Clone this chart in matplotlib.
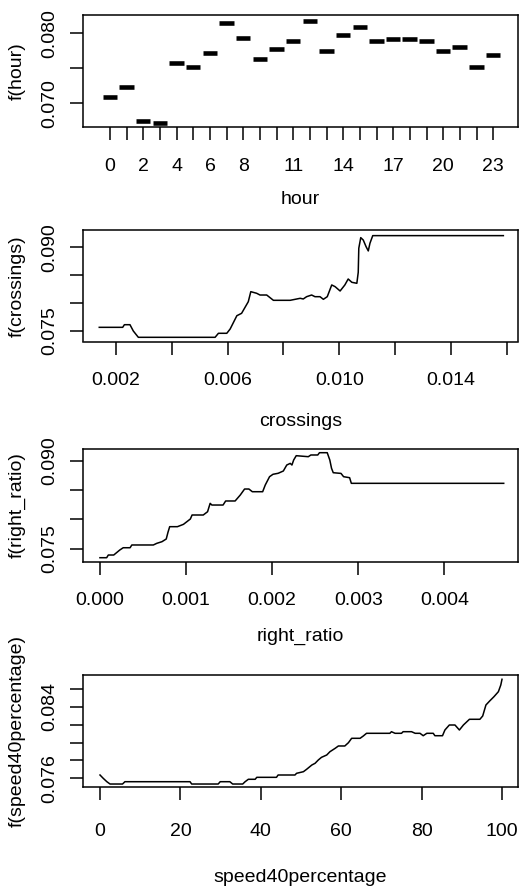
import numpy as np
import matplotlib
matplotlib.use("Agg")
import matplotlib.pyplot as plt

plt.rcParams['font.family'] = ['Liberation Sans', 'DejaVu Sans']
plt.rcParams['font.size'] = 14

# partial dependence values
hours = np.arange(24)
f_hour = [0.07095, 0.07238, 0.06752, 0.06714, 0.07581, 0.07524, 0.07724, 0.08152,
          0.07929, 0.07638, 0.07781, 0.07895, 0.08181, 0.07752, 0.07981, 0.08095,
          0.07895, 0.07924, 0.07924, 0.07895, 0.07752, 0.07810, 0.07524, 0.07695]
hour_labels = ['0', '', '2', '', '4', '', '6', '', '8', '', '', '11', '', '',
               '14', '', '', '17', '', '', '20', '', '', '23']

crossings = [0.0014, 0.00224, 0.0023, 0.0025, 0.00262, 0.0028, 0.00555, 0.00567, 0.00597,
             0.00609, 0.00633, 0.0065, 0.00674, 0.00683, 0.00704, 0.00716, 0.0074, 0.00764,
             0.00824, 0.0086, 0.00871, 0.00883, 0.00901, 0.00913, 0.00931, 0.00943, 0.00957,
             0.00973, 0.00985, 0.01003, 0.0102, 0.01032, 0.01045, 0.01063, 0.01068, 0.0107,
             0.01077, 0.01086, 0.01096, 0.01104, 0.0111, 0.0112, 0.01588]
f_crossings = [0.07566, 0.07566, 0.07613, 0.07613, 0.0750, 0.07387, 0.07387, 0.07459, 0.07459,
               0.07536, 0.07774, 0.07817, 0.08025, 0.08205, 0.08176, 0.08145, 0.08145, 0.0805,
               0.0805, 0.08086, 0.08074, 0.08115, 0.08145, 0.08115, 0.08115, 0.08068, 0.08115,
               0.08325, 0.08295, 0.08217, 0.08325, 0.08432, 0.08373, 0.08355, 0.08552, 0.08983,
               0.09173, 0.0913, 0.09012, 0.08935, 0.09073, 0.09209, 0.09209]

right_ratio = [0, 0.000078, 0.000097, 0.00016, 0.00023, 0.00027, 0.00035, 0.00037, 0.00062,
               0.00066, 0.00072, 0.00077, 0.00079, 0.00081, 0.0009, 0.00097, 0.00105, 0.00107,
               0.0012, 0.00125, 0.00128, 0.0013, 0.00143, 0.00146, 0.00157, 0.00163, 0.00168,
               0.00173, 0.00177, 0.00189, 0.00192, 0.00197, 0.00201, 0.00207, 0.00213, 0.00217,
               0.00221, 0.00223, 0.00225, 0.00228, 0.00242, 0.00245, 0.00253, 0.00255, 0.00264,
               0.00267, 0.00269, 0.00271, 0.0028, 0.00283, 0.0029, 0.00292, 0.00469]
f_right_ratio = [0.07343, 0.07343, 0.07389, 0.07389, 0.07474, 0.07513, 0.07513, 0.0756, 0.0756,
                 0.07588, 0.07616, 0.07662, 0.07776, 0.07872, 0.07872, 0.07912, 0.08003, 0.08071,
                 0.08071, 0.08127, 0.0827, 0.08241, 0.08241, 0.0831, 0.0831, 0.08412, 0.08514,
                 0.08514, 0.08468, 0.08468, 0.08582, 0.08724, 0.08765, 0.08782, 0.08821, 0.08923,
                 0.08951, 0.08923, 0.09008, 0.09082, 0.09065, 0.09094, 0.09094, 0.09133, 0.09133,
                 0.09008, 0.08867, 0.08792, 0.0878, 0.08724, 0.08707, 0.08611, 0.08611]

speed40 = [0, 0.8, 1.7, 2.5, 5.6, 6.2, 22.4, 22.8, 29.4, 29.9, 32.3, 33.0, 35.5, 36.1, 36.9,
           38.6, 39.0, 43.9, 44.3, 48.5, 48.9, 50.6, 51.4, 52.7, 53.5, 54.3, 55.1, 56.4, 57.2,
           58.5, 59.3, 60.9, 61.8, 62.6, 64.7, 65.5, 66.3, 72.1, 72.5, 73.4, 75.0, 75.4, 77.5,
           78.4, 79.6, 80.4, 81.3, 82.9, 83.3, 85.2, 85.8, 86.9, 88.3, 89.4, 90.4, 91.9, 94.5,
           95.2, 96.0, 97.0, 98.0, 99.1, 99.7, 100]
f_speed40 = [0.07637, 0.0760, 0.07562, 0.07536, 0.07536, 0.07562, 0.07562, 0.07536, 0.07536,
             0.07562, 0.07562, 0.07536, 0.07536, 0.07562, 0.07589, 0.07589, 0.07611, 0.07611,
             0.07637, 0.07637, 0.07656, 0.07674, 0.07701, 0.07749, 0.07768, 0.07805, 0.07835,
             0.07861, 0.07898, 0.07936, 0.07962, 0.07962, 0.07999, 0.08048, 0.08048, 0.08074,
             0.08104, 0.08104, 0.08122, 0.08104, 0.08104, 0.08122, 0.08122, 0.08104, 0.08104,
             0.08077, 0.08104, 0.08104, 0.08077, 0.08077, 0.08141, 0.08197, 0.08197, 0.08141,
             0.08197, 0.08261, 0.08261, 0.08298, 0.08421, 0.08469, 0.08514, 0.0857, 0.08645,
             0.08709]

W, H = 521, 890
fig = plt.figure(figsize=(W / 100, H / 100), dpi=100)


def panel(top, bottom):
    ax = fig.add_axes([83 / W, 1 - bottom / H, 435 / W, (bottom - top) / H])
    for s in ax.spines.values():
        s.set_linewidth(1.1)
    ax.tick_params(direction='out', length=9.4, width=1.1, labelsize=14, top=False, right=False)
    return ax


def style(ax, xlab, ylab, yticks, ylabels, xpad, xlab_y):
    ax.set_yticks(yticks)
    ax.set_yticklabels(ylabels, rotation=90, va='center')
    ax.tick_params(axis='y', pad=8.6)
    ax.tick_params(axis='x', pad=xpad)
    ax.set_xlabel(xlab, fontsize=14, va='center')
    ax.xaxis.set_label_coords(0.5, xlab_y)
    ax.set_ylabel(ylab, fontsize=14, va='center')
    ax.yaxis.set_label_coords(-66 / 435, 0.5)


# hour
ax1 = panel(14.7, 126.7)
ax1.hlines(f_hour, hours - 0.45, hours + 0.42, colors='black', lw=3.3)
ax1.set_xlim(-1.62, 24.48)
ax1.set_ylim(0.06666, 0.08266)
ax1.set_xticks(hours)
ax1.set_xticklabels(hour_labels)
style(ax1, 'hour', 'f(hour)', [0.070, 0.075, 0.080], ['0.070', '', '0.080'], 13.4, -73.3 / 112)

# crossings
ax2 = panel(230.5, 341.5)
ax2.plot(crossings, f_crossings, color='black', lw=1.1)
ax2.set_xlim(0.000817, 0.016405)
ax2.set_ylim(0.07312, 0.09301)
ax2.set_xticks([0.002, 0.004, 0.006, 0.008, 0.010, 0.012, 0.014, 0.016])
ax2.set_xticklabels(['0.002', '', '0.006', '', '0.010', '', '0.014', ''])
style(ax2, 'crossings', 'f(crossings)', [0.075, 0.080, 0.085, 0.090],
      ['0.075', '', '', '0.090'], 12.3, -80 / 111)

# right_ratio
ax3 = panel(449.3, 561.7)
ax3.plot(right_ratio, f_right_ratio, color='black', lw=1.1)
ax3.set_xlim(-0.000197, 0.004856)
ax3.set_ylim(0.07275, 0.09191)
ax3.set_xticks([0.000, 0.001, 0.002, 0.003, 0.004])
ax3.set_xticklabels(['0.000', '0.001', '0.002', '0.003', '0.004'])
style(ax3, 'right_ratio', 'f(right_ratio)', [0.075, 0.080, 0.085, 0.090],
      ['0.075', '', '', '0.090'], 12.3, -75 / 112.4)

# speed40percentage
ax4 = panel(675, 786.7)
ax4.plot(speed40, f_speed40, color='black', lw=1.1)
ax4.set_xlim(-4.23, 103.98)
ax4.set_ylim(0.07506, 0.08757)
ax4.set_xticks([0, 20, 40, 60, 80, 100])
ax4.set_xticklabels(['0', '20', '40', '60', '80', '100'])
style(ax4, 'speed40percentage', 'f(speed40percentage)',
      [0.076, 0.078, 0.080, 0.082, 0.084, 0.086], ['0.076', '', '', '', '0.084', ''],
      16.8, -91 / 111.7)

fig.savefig('out.png', dpi=100)
